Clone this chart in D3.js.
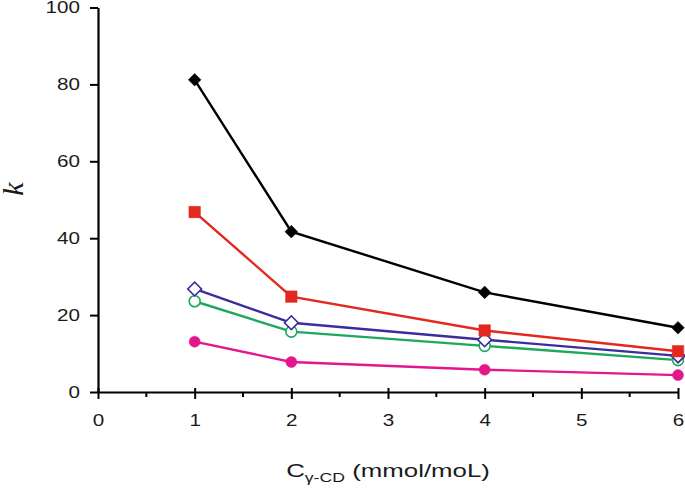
<!DOCTYPE html>
<html>
<head>
<meta charset="utf-8">
<script src="https://cdn.jsdelivr.net/npm/d3@7"></script>
<style>
  body { margin: 0; background: #fff; }
  svg { display: block; }
</style>
</head>
<body>
<div id="chart"></div>
<script>
// concentration of gamma-CD (mmol/moL)
var conc = [1, 2, 4, 6];

// k values per series
var k_black = [81.2, 41.7, 25.9, 16.7];
var k_red = [46.8, 24.8, 16.0, 10.6];
var k_blue = [26.8, 18.0, 13.6, 9.4];
var k_green = [23.6, 15.7, 12.0, 8.3];
var k_pink = [13.1, 7.8, 5.8, 4.4];

var xTicks = [0, 1, 2, 3, 4, 5, 6];
var xMinor = [0.5, 1.5, 2.5, 3.5, 4.5, 5.5];
var yTicks = [0, 20, 40, 60, 80, 100];

var series = [
  {name: "pink", values: k_pink, color: "#e3168c", symbol: "circle", filled: true},
  {name: "green", values: k_green, color: "#1ea85c", symbol: "circle", filled: false},
  {name: "blue", values: k_blue, color: "#3b2d9c", symbol: "opendiamond", filled: false},
  {name: "red", values: k_red, color: "#e3281f", symbol: "square", filled: true},
  {name: "black", values: k_black, color: "#000000", symbol: "diamond", filled: true}
];

var width = 685, height = 490;
var font = "'Liberation Sans', Arial, sans-serif";
var stretch = 1.25; // the original figure's text is wider than it is tall

var svg = d3.select("#chart").append("svg")
    .attr("width", width)
    .attr("height", height);

var x = d3.scaleLinear().domain([0, 6]).range([98, 678]);
var y = d3.scaleLinear().domain([0, 100]).range([392, 7.5]);

// y axis
var yAxis = svg.append("g")
    .attr("transform", "translate(" + x(0) + ",0)")
    .call(d3.axisLeft(y).tickValues(yTicks).tickFormat(d3.format("d"))
          .tickSize(8).tickSizeOuter(0).tickPadding(10));
yAxis.select(".domain").attr("stroke", "#000").attr("stroke-width", 2.2);
yAxis.selectAll(".tick line").attr("stroke", "#000").attr("stroke-width", 2);
yAxis.selectAll(".tick text")
    .attr("x", -18 / stretch)
    .attr("transform", "scale(" + stretch + ",1)")
    .style("font-family", font).style("font-size", "16.5px").attr("fill", "#1a1a1a");

// x axis, major ticks stick out a bit on both sides
var xAxis = svg.append("g")
    .attr("transform", "translate(0," + y(0) + ")")
    .call(d3.axisBottom(x).tickValues(xTicks).tickFormat(d3.format("d"))
          .tickSize(7).tickSizeOuter(0).tickPadding(15));
xAxis.select(".domain").attr("stroke", "#000").attr("stroke-width", 2.2);
xAxis.selectAll(".tick line").attr("y1", -4).attr("stroke", "#000").attr("stroke-width", 2);
xAxis.selectAll(".tick text")
    .attr("transform", "scale(" + stretch + ",1)")
    .style("font-family", font).style("font-size", "16.5px").attr("fill", "#1a1a1a");

svg.append("g")
    .attr("transform", "translate(0," + y(0) + ")")
    .selectAll("line")
    .data(xMinor)
    .enter().append("line")
    .attr("x1", function(d) { return x(d); })
    .attr("x2", function(d) { return x(d); })
    .attr("y1", 0)
    .attr("y2", 5)
    .attr("stroke", "#000")
    .attr("stroke-width", 2);

// axis titles
svg.append("text")
    .attr("transform", "translate(23,189) rotate(-90)")
    .attr("text-anchor", "middle")
    .style("font-family", "'Liberation Serif', 'Times New Roman', serif")
    .style("font-style", "italic")
    .style("font-size", "30px")
    .attr("fill", "#1a1a1a")
    .text("k");

var xt = svg.append("g")
    .attr("transform", "translate(" + (x(0) + x(6)) / 2 + ",477) scale(1.36,1)")
  .append("text")
    .attr("text-anchor", "middle")
    .style("font-family", font)
    .style("font-size", "19px")
    .attr("fill", "#1a1a1a");
xt.append("tspan").text("C");
xt.append("tspan").attr("dy", 5).style("font-size", "13px").text("\u03b3-CD");
xt.append("tspan").attr("dy", -5).text(" (mmol/moL)");

var line = d3.line()
    .x(function(d, i) { return x(conc[i]); })
    .y(function(d) { return y(d); });

var symbols = {
  circle: d3.symbol().type(d3.symbolCircle).size(95),
  diamond: d3.symbol().type(d3.symbolSquare).size(80),
  opendiamond: d3.symbol().type(d3.symbolSquare).size(95),
  square: d3.symbol().type(d3.symbolSquare).size(132)
};

series.forEach(function(s) {
  var g = svg.append("g").attr("class", "series-" + s.name);
  g.append("path")
      .datum(s.values)
      .attr("fill", "none")
      .attr("stroke", s.color)
      .attr("stroke-width", 2.4)
      .attr("d", line);
  g.selectAll(".pt")
      .data(s.values)
      .enter().append("path")
      .attr("class", "pt")
      .attr("d", symbols[s.symbol])
      .attr("transform", function(d, i) {
        var t = "translate(" + x(conc[i]) + "," + y(d) + ")";
        return s.symbol.indexOf("diamond") >= 0 ? t + " rotate(45)" : t;
      })
      .attr("fill", s.filled ? s.color : "#fff")
      .attr("stroke", s.color)
      .attr("stroke-width", s.filled ? 0.5 : 1.6);
});
</script>
</body>
</html>
